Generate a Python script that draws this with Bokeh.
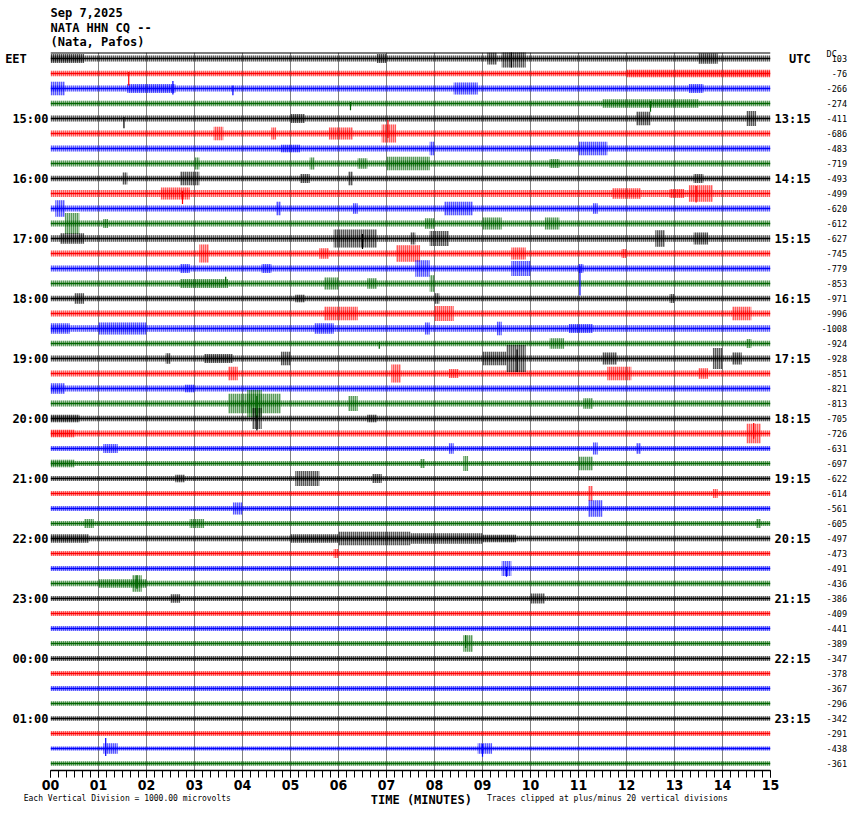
from bokeh.plotting import figure
from bokeh.models import Span, FixedTicker, Range1d, ColumnDataSource, LinearAxis, Title
from bokeh.embed import file_html
from bokeh.resources import INLINE

# ---------------- data read from the helicorder ----------------
trace_colors = ["#000000", "#ff0000", "#0000ff", "#006400"]

# typical half-amplitude of background noise for each 15-min trace (microvolts)
base_amp_uv = [200, 180, 200, 180, 200, 200, 200, 200,
               180, 230, 200, 200, 220, 200, 200, 200,
               180, 200, 220, 180, 200, 200, 200, 200,
               180, 200, 170, 170, 170, 170, 170, 170,
               180, 170, 170, 180, 170, 160, 170, 170,
               160, 170, 160, 150, 150, 160, 140, 150]

# bursts of larger motion: (trace, start minute, end minute, half-amplitude uV)
bursts = [
    (0, 0.0, 0.7, 300), (0, 6.8, 7.0, 300), (0, 9.1, 9.3, 400), (0, 9.4, 9.9, 600), (0, 13.5, 13.9, 350),
    (1, 12.0, 15.0, 250),
    (2, 0.0, 0.3, 450), (2, 1.6, 2.6, 300), (2, 8.4, 8.9, 400), (2, 13.3, 13.6, 300),
    (3, 11.5, 13.5, 280),
    (4, 5.0, 5.3, 300), (4, 12.2, 12.5, 450), (4, 14.5, 14.7, 500),
    (5, 3.4, 3.6, 450), (5, 4.6, 4.7, 400), (5, 5.8, 6.3, 400), (5, 6.9, 7.2, 600),
    (6, 4.8, 5.2, 250), (6, 7.9, 8.0, 450), (6, 11.0, 11.6, 450),
    (7, 3.0, 3.1, 400), (7, 5.4, 5.5, 400), (7, 6.4, 6.6, 350), (7, 7.0, 7.9, 450), (7, 10.4, 10.6, 300),
    (8, 1.5, 1.6, 400), (8, 2.7, 3.1, 450), (8, 5.2, 5.4, 300), (8, 6.2, 6.3, 450), (8, 13.4, 13.6, 300),
    (9, 2.3, 2.9, 400), (9, 11.7, 12.3, 350), (9, 12.9, 13.2, 300), (9, 13.3, 13.8, 550),
    (10, 0.1, 0.3, 550), (10, 4.7, 4.8, 450), (10, 6.3, 6.4, 350), (10, 8.2, 8.8, 450), (10, 11.3, 11.4, 350),
    (11, 0.3, 0.6, 700), (11, 1.1, 1.2, 300), (11, 7.8, 8.0, 350), (11, 9.0, 9.4, 400), (11, 10.3, 10.6, 400),
    (12, 0.2, 0.7, 350), (12, 5.9, 6.8, 600), (12, 7.5, 7.6, 400), (12, 7.9, 8.3, 500), (12, 12.6, 12.8, 550), (12, 13.4, 13.7, 400),
    (13, 3.1, 3.3, 600), (13, 5.6, 5.8, 350), (13, 7.2, 7.7, 550), (13, 9.6, 9.9, 400), (13, 11.9, 12.0, 300),
    (14, 2.7, 2.9, 300), (14, 4.4, 4.6, 300), (14, 7.6, 7.9, 550), (14, 9.6, 10.0, 500), (14, 11.0, 11.1, 300),
    (15, 2.7, 3.7, 300), (15, 5.7, 6.0, 400), (15, 6.6, 6.8, 350), (15, 7.9, 8.0, 550),
    (16, 0.5, 0.7, 350), (16, 5.1, 5.3, 250), (16, 8.0, 8.1, 350), (16, 12.9, 13.0, 300),
    (17, 5.7, 6.4, 450), (17, 8.0, 8.4, 500), (17, 14.2, 14.6, 450),
    (18, 0.0, 0.4, 350), (18, 1.0, 2.0, 400), (18, 5.5, 5.9, 350), (18, 7.8, 7.9, 400), (18, 9.3, 9.4, 450), (18, 10.8, 11.3, 300),
    (19, 10.4, 10.7, 350), (19, 14.5, 14.6, 300),
    (20, 2.4, 2.5, 350), (20, 3.2, 3.8, 300), (20, 4.8, 5.0, 450), (20, 9.0, 9.5, 450), (20, 9.5, 9.9, 900),
    (20, 11.5, 11.8, 400), (20, 13.8, 14.0, 700), (20, 14.2, 14.4, 400),
    (21, 3.7, 3.9, 450), (21, 7.1, 7.3, 600), (21, 8.3, 8.5, 300), (21, 11.6, 12.1, 450), (21, 13.5, 13.7, 350),
    (22, 0.0, 0.3, 350), (22, 2.8, 3.0, 250),
    (23, 3.7, 4.8, 650), (23, 4.1, 4.4, 900), (23, 6.2, 6.4, 500), (23, 11.1, 11.3, 350),
    (24, 0.0, 0.6, 250), (24, 4.2, 4.4, 700), (24, 6.6, 6.8, 250),
    (25, 0.0, 0.5, 250), (25, 14.5, 14.8, 650),
    (26, 1.1, 1.4, 300), (26, 8.3, 8.4, 350), (26, 11.3, 11.4, 400), (26, 12.2, 12.3, 350),
    (27, 0.0, 0.5, 250), (27, 7.7, 7.8, 300), (27, 8.6, 8.7, 500), (27, 11.0, 11.3, 450),
    (28, 2.6, 2.8, 250), (28, 5.1, 5.6, 500), (28, 6.7, 6.9, 300),
    (29, 11.2, 11.3, 500), (29, 13.8, 13.9, 300),
    (30, 3.8, 4.0, 400), (30, 11.2, 11.5, 550),
    (31, 0.7, 0.9, 300), (31, 2.9, 3.2, 300), (31, 14.7, 14.8, 300),
    (32, 0.0, 0.8, 280), (32, 5.0, 6.0, 280), (32, 6.0, 7.5, 450), (32, 7.5, 9.0, 350), (32, 9.0, 9.7, 250),
    (33, 5.9, 6.0, 300),
    (34, 9.4, 9.6, 500),
    (35, 1.0, 2.0, 280), (35, 1.7, 1.9, 550),
    (36, 2.5, 2.7, 280), (36, 10.0, 10.3, 330),
    (39, 8.6, 8.8, 550),
    (46, 1.1, 1.4, 350), (46, 8.9, 9.2, 350),
]

# single sharp spikes: (trace, minute, upward uV, downward uV)
spikes = [
    (0, 9.6, 900, 600), (1, 1.63, 100, 800), (2, 2.55, 500, 400), (2, 3.8, 200, 450),
    (3, 6.25, 100, 450), (3, 12.5, 150, 550), (4, 1.53, 100, 650), (5, 7.03, 900, 300),
    (9, 2.75, 150, 700), (9, 13.45, 500, 600), (12, 6.5, 300, 700), (14, 11.03, 150, 1800),
    (15, 3.65, 450, 100), (19, 6.85, 100, 350), (20, 9.72, 600, 900), (23, 4.3, 500, 1000),
    (24, 4.3, 200, 800), (25, 14.65, 700, 350), (34, 9.5, 100, 550), (35, 1.8, 550, 350),
    (39, 8.65, 550, 300), (46, 1.15, 700, 500), (46, 9.0, 300, 550),
]

dc_offsets = ["103", "-76", "-266", "-274", "-411", "-686", "-483", "-719",
              "-493", "-499", "-620", "-612", "-627", "-745", "-779", "-853",
              "-971", "-996", "-1008", "-924", "-928", "-851", "-821", "-813",
              "-705", "-726", "-631", "-697", "-622", "-614", "-561", "-605",
              "-497", "-473", "-491", "-436", "-386", "-409", "-441", "-389",
              "-347", "-378", "-367", "-296", "-342", "-291", "-438", "-361"]

local_labels = ["EET", "15:00", "16:00", "17:00", "18:00", "19:00", "20:00",
                "21:00", "22:00", "23:00", "00:00", "01:00"]
utc_labels = ["UTC", "13:15", "14:15", "15:15", "16:15", "17:15", "18:15",
              "19:15", "20:15", "21:15", "22:15", "23:15"]
minute_labels = ["00", "01", "02", "03", "04", "05", "06", "07",
                 "08", "09", "10", "11", "12", "13", "14", "15"]

header_lines = ["Sep 7,2025", "NATA HHN CQ --", "(Nata, Pafos)"]
scale_note = "Each Vertical Division = 1000.00 microvolts"
clip_note = "Traces clipped at plus/minus 20 vertical divisions"
time_title = "TIME (MINUTES)"
uv_per_division = 1000.0
n_traces = len(base_amp_uv)
minutes = 15

# ---------------- figure ----------------
NB = "\u00a0"
PX_PER_DIV = 15.0
y_top = 0.4
y_bot = y_top - 718 / PX_PER_DIV

p = figure(width=850, height=814, x_range=Range1d(0, minutes), y_range=Range1d(y_bot, y_top),
           output_backend="svg", toolbar_location=None,
           min_border_left=50, min_border_right=80, min_border_top=52, min_border_bottom=44)
p.outline_line_color = None
p.yaxis.visible = False
p.ygrid.visible = False
p.xgrid.ticker = FixedTicker(ticks=list(range(minutes + 1)))
p.xgrid.grid_line_color = "#808080"
p.xgrid.grid_line_width = 1

mono = "DejaVu Sans Mono"
no_ticks = dict(axis_line_color=None, major_tick_line_color=None, minor_tick_line_color=None,
                major_tick_out=0, major_tick_in=0, minor_tick_out=0, minor_tick_in=0)

# bottom minute axis
ax = p.xaxis[0]
ax.ticker = FixedTicker(ticks=list(range(minutes + 1)),
                        minor_ticks=[k / 6 for k in range(minutes * 6 + 1)])
ax.major_label_overrides = {i: s for i, s in enumerate(minute_labels)}
ax.axis_line_color = "black"
ax.axis_line_width = 1.5
ax.major_tick_out = 7
ax.major_tick_in = 0
ax.minor_tick_out = 7
ax.minor_tick_in = 0
ax.major_tick_line_color = "black"
ax.minor_tick_line_color = "black"
ax.major_label_standoff = 2
ax.major_label_text_font = "Liberation Sans Narrow, DejaVu Sans Condensed, DejaVu Sans"
ax.major_label_text_font_style = "bold"
ax.major_label_text_font_size = "14px"
ax.major_label_text_color = "black"

# second bottom axis carrying the notes row
note_x = [1.6, 11.6]
ax2 = LinearAxis(ticker=FixedTicker(ticks=note_x, minor_ticks=[]),
                 major_label_overrides={note_x[0]: scale_note, note_x[1]: clip_note},
                 major_label_standoff=1, major_label_text_font=mono, major_label_text_font_size="8px",
                 major_label_text_color="black",
                 axis_label=NB * 3 + time_title, axis_label_text_font=mono, axis_label_text_font_style="bold",
                 axis_label_text_font_size="12px", axis_label_standoff=-13,
                 axis_label_text_color="black", **no_ticks)
p.add_layout(ax2, "below")

# left axis: local time
tr_ticks = [-4 * k for k in range(len(local_labels))]
left_over = {}
for k, s in enumerate(local_labels):
    left_over[tr_ticks[k]] = (s + NB * 3) if k == 0 else s
ayl = LinearAxis(ticker=FixedTicker(ticks=tr_ticks, minor_ticks=[]), major_label_overrides=left_over,
                 major_label_standoff=2, major_label_text_font=mono, major_label_text_font_style="bold",
                 major_label_text_font_size="12px", major_label_text_color="black", **no_ticks)
p.add_layout(ayl, "left")

# right axis: UTC
right_over = {}
for k, s in enumerate(utc_labels):
    right_over[tr_ticks[k]] = (NB * 2 + s) if k == 0 else s
ayr = LinearAxis(ticker=FixedTicker(ticks=tr_ticks, minor_ticks=[]), major_label_overrides=right_over,
                 major_label_standoff=4, major_label_text_font=mono, major_label_text_font_style="bold",
                 major_label_text_font_size="12px", major_label_text_color="black", **no_ticks)
p.add_layout(ayr, "right")

# second right axis: DC offsets (right-justified with padding in a monospace font)
dc_ticks = [-i for i in range(n_traces)] + [0.33]
dc_over = {-i: s.rjust(5, NB) for i, s in enumerate(dc_offsets)}
dc_over[0.33] = NB * 1 + "DC"
aydc = LinearAxis(ticker=FixedTicker(ticks=dc_ticks, minor_ticks=[]), major_label_overrides=dc_over,
                  major_label_standoff=8, major_label_text_font=mono,
                  major_label_text_font_size="8.5px", major_label_text_color="black", **no_ticks)
p.add_layout(aydc, "right")

# header
p.add_layout(Title(text="\n".join(header_lines), align="left", text_font=mono, text_font_style="bold",
                   text_font_size="12px", text_line_height=1.07, standoff=6, text_color="black"), "above")

# top border
p.add_layout(Span(location=y_top, dimension="width", line_color="black", line_width=2))

# noise bands
band = dict(left=[], right=[], bottom=[], top=[], color=[])
for i, a in enumerate(base_amp_uv):
    h = a / uv_per_division
    band["left"].append(0); band["right"].append(minutes)
    band["bottom"].append(-i - h); band["top"].append(-i + h)
    band["color"].append(trace_colors[i % 4])
for (i, t0, t1, a) in bursts:
    h = a / uv_per_division
    band["left"].append(t0); band["right"].append(t1)
    band["bottom"].append(-i - h); band["top"].append(-i + h)
    band["color"].append(trace_colors[i % 4])
p.quad(left="left", right="right", bottom="bottom", top="top", source=ColumnDataSource(band),
       fill_color="color", fill_alpha=0.3, line_color=None,
       hatch_pattern="vertical_line", hatch_color="color", hatch_scale=2, hatch_weight=1)

# trace centre lines
cl = dict(x0=[0] * n_traces, x1=[minutes] * n_traces, y=[-i for i in range(n_traces)],
          color=[trace_colors[i % 4] for i in range(n_traces)])
p.segment(x0="x0", x1="x1", y0="y", y1="y", color="color", line_width=1.5, source=ColumnDataSource(cl))

# spikes
sp = dict(x=[], y0=[], y1=[], color=[])
for (i, t, up, dn) in spikes:
    sp["x"].append(t); sp["y0"].append(-i - dn / uv_per_division); sp["y1"].append(-i + up / uv_per_division)
    sp["color"].append(trace_colors[i % 4])
p.segment(x0="x", x1="x", y0="y0", y1="y1", color="color", line_width=1.2, source=ColumnDataSource(sp))

open("out.html", "w").write(file_html(p, INLINE))
